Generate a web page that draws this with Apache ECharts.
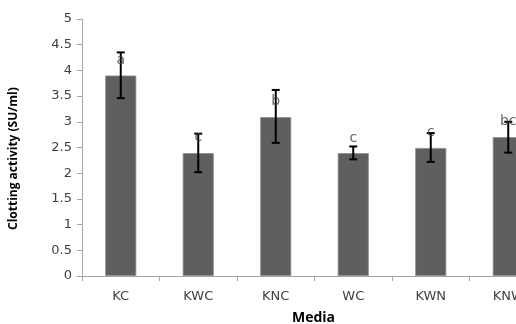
<!DOCTYPE html>
<html><head><meta charset="utf-8">
<script src="https://cdn.jsdelivr.net/npm/echarts@6/dist/echarts.min.js"></script>
<style>html,body{margin:0;padding:0;background:#fff}#c{width:516px;height:324px}</style>
</head><body><div id="c"></div>
<script>
const categories = ["KC","KWC","KNC","WC","KWN","KNW"];
const means = [3.90, 2.39, 3.09, 2.39, 2.49, 2.70];
const errLow = [3.46, 2.02, 2.59, 2.27, 2.22, 2.40];
const errHigh = [4.35, 2.77, 3.62, 2.52, 2.78, 3.00];
const letters = ["a","c","b","c","c","bc"];
const letterY = [4.19, 2.69, 3.39, 2.68, 2.79, 3.00];
const yTicks = [0,0.5,1,1.5,2,2.5,3,3.5,4,4.5,5];

const chart = echarts.init(document.getElementById('c'), null, {renderer:'canvas'});
chart.setOption({
  animation:false,
  grid:{left:82,top:19,width:465,height:257,outerBoundsMode:'none',containLabel:false},
  xAxis:{type:'category',data:categories,
    axisLine:{lineStyle:{color:'#a6a6a6',width:1}},
    axisTick:{show:true,length:5,lineStyle:{color:'#a6a6a6'}},
    axisLabel:{color:'#404040',fontSize:13,fontFamily:'DejaVu Sans',margin:14}},
  yAxis:{type:'value',min:0,max:5,interval:0.5,
    axisLine:{show:true,lineStyle:{color:'#a6a6a6'}},
    axisTick:{show:true,length:5,lineStyle:{color:'#a6a6a6'}},
    splitLine:{show:false},
    axisLabel:{color:'#404040',fontSize:13,fontFamily:'DejaVu Sans',margin:10,
      formatter:v=>String(v)}},
  series:[
    {type:'bar',data:means,barWidth:'40%',
     itemStyle:{color:'#5f5f5f',borderColor:'#8a8a8a',borderWidth:0.8}},
    {type:'custom',
     data:categories.map((c,i)=>[i,errLow[i],errHigh[i]]),
     renderItem:function(params,api){
       const lo=api.coord([api.value(0),api.value(1)]);
       const hi=api.coord([api.value(0),api.value(2)]);
       const hw=4;
       const st={stroke:'#000',lineWidth:2};
       return {type:'group',children:[
         {type:'line',shape:{x1:lo[0],y1:lo[1],x2:hi[0],y2:hi[1]},style:st},
         {type:'line',shape:{x1:lo[0]-hw,y1:lo[1],x2:lo[0]+hw,y2:lo[1]},style:st},
         {type:'line',shape:{x1:hi[0]-hw,y1:hi[1],x2:hi[0]+hw,y2:hi[1]},style:st}
       ]};
     },z:5},
    {type:'scatter',symbolSize:0,
     data:categories.map((c,i)=>({value:[i,letterY[i]],name:letters[i]})),
     label:{show:true,position:'inside',formatter:p=>p.name,color:'#404040',
       fontSize:14,fontFamily:'DejaVu Sans'},z:6}
  ],
  graphic:[
    {type:'text',left:292,top:311,style:{text:'Media',font:'bold 14px "Open Sans"',fill:'#000'}},
    {type:'text',x:8,y:230,rotation:Math.PI/2,
     style:{text:'Clotting activity (SU/ml)',font:'bold 12px "Open Sans"',fill:'#000'}}
  ]
});
</script></body></html>
